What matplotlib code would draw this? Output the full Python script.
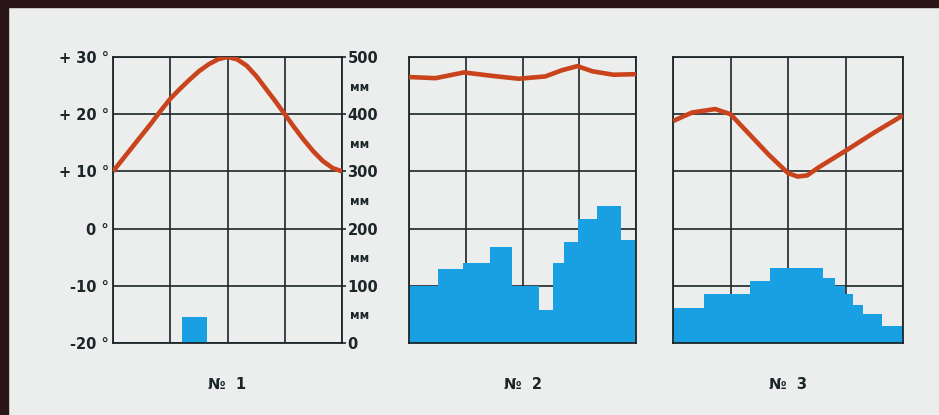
import matplotlib.pyplot as plt
from matplotlib.patches import Rectangle

# mean monthly temperature, deg C (x = month position 0..12)
t1_month = [0, 0.5, 1, 1.5, 2, 2.5, 3, 3.5, 4, 4.5, 5, 5.5, 6,
            6.5, 7, 7.5, 8, 8.5, 9, 9.5, 10, 10.5, 11, 11.5, 12]
t1_temp = [10, 12.1, 14.2, 16.3, 18.4, 20.6, 22.7, 24.4, 26.0, 27.5, 28.7, 29.6, 30,
           29.6, 28.5, 26.7, 24.5, 22.3, 20.0, 17.7, 15.5, 13.5, 11.8, 10.6, 10]

t2_month = [0, 1.4, 2.9, 4.4, 5.8, 7.2, 8.1, 8.9, 9.7, 10.8, 12]
t2_temp = [26.5, 26.3, 27.3, 26.7, 26.2, 26.6, 27.7, 28.4, 27.5, 26.9, 27.0]

t3_month = [0, 1.0, 2.2, 3.0, 3.9, 5.0, 6.0, 6.5, 7.0, 7.6, 9.1, 10.5, 12]
t3_temp = [18.8, 20.3, 20.9, 20.0, 16.8, 12.9, 9.7, 9.1, 9.3, 10.7, 13.8, 16.8, 19.8]

# precipitation, mm (step edges in months)
p1_edges = [0, 3.6, 4.9, 12]
p1_mm = [0, 45, 0]

p2_edges = [0, 1.54, 2.86, 4.26, 5.46, 6.86, 7.59, 8.21, 8.91, 9.96, 11.19, 12]
p2_mm = [100, 130, 139, 167, 100, 58, 139, 177, 216, 240, 180]

p3_edges = [0, 1.6, 4.0, 5.05, 7.83, 8.45, 8.97, 9.39, 9.91, 10.9, 12]
p3_mm = [62, 86, 108, 131, 113, 99, 85, 67, 50, 29]

temp_ticks = [-20, -10, 0, 10, 20, 30]
temp_labels = ['-20 °', '-10 °', '0 °', '+ 10 °', '+ 20 °', '+ 30 °']
mm_ticks = [0, 100, 200, 300, 400, 500]
mm_minor = [50, 150, 250, 350, 450]

panels = [
  ('№  1', t1_month, t1_temp, p1_edges, p1_mm),
  ('№  2', t2_month, t2_temp, p2_edges, p2_mm),
  ('№  3', t3_month, t3_temp, p3_edges, p3_mm),
]
boxes = [(113, 342), (409, 636), (673, 903)]

BG = '#ebeeed'
INK = '#1c2628'
RED = '#c9441c'
BLUE = '#19a0e2'

W, H = 939, 415
fig = plt.figure(figsize=(W / 100, H / 100), dpi=100)
fig.patch.set_facecolor(BG)

# dark frame of the slide (left and top edges)
fig.add_artist(Rectangle((0, 0), 8 / W, 1, transform=fig.transFigure, color='#2a1519', zorder=0))
fig.add_artist(Rectangle((0, 1 - 7 / H), 1, 7 / H, transform=fig.transFigure, color='#2a1519', zorder=0))

top, bottom = 57, 343
for i, (name, months, temps, edges, mm) in enumerate(panels):
  x0, x1 = boxes[i]
  ax = fig.add_axes([x0 / W, 1 - bottom / H, (x1 - x0) / W, (bottom - top) / H])
  ax.set_facecolor('none')
  ax.set_xlim(0, 12)
  ax.set_ylim(0, 500)
  ax.stairs(mm, edges, fill=True, color=BLUE, linewidth=0, zorder=2)
  ax.set_axisbelow(True)
  ax.set_xticks([0, 3, 6, 9, 12])
  ax.set_yticks(mm_ticks)
  ax.grid(True, color=INK, linewidth=1.2)
  ax.tick_params(axis='x', length=0, labelbottom=False)
  for s in ax.spines.values():
    s.set_color(INK)
    s.set_linewidth(1.3)
    s.set_zorder(3)

  tax = ax.twinx()
  tax.set_ylim(-20, 30)
  tax.plot(months, temps, color=RED, linewidth=3.3, solid_capstyle='butt',
           solid_joinstyle='round', zorder=4)
  tax.set_yticks(temp_ticks)
  for s in tax.spines.values():
    s.set_visible(False)

  if i == 0:
    ax.yaxis.tick_right()
    ax.set_yticklabels([str(v) for v in mm_ticks])
    ax.set_yticks(mm_minor, minor=True)
    ax.set_yticklabels(['мм'] * len(mm_minor), minor=True, fontsize=8.5, fontweight='bold', color=INK)
    ax.tick_params(axis='y', which='major', length=3, width=1.2, color=INK, pad=1,
                   labelsize=10.5, labelcolor=INK)
    ax.tick_params(axis='y', which='minor', length=0, pad=6)
    for lab in ax.get_yticklabels():
      lab.set_fontweight('bold')
    tax.yaxis.tick_left()
    tax.set_yticklabels(temp_labels)
    tax.tick_params(axis='y', length=0, pad=3, labelsize=10.5, labelcolor=INK)
    for lab in tax.get_yticklabels():
      lab.set_fontweight('bold')
  else:
    ax.tick_params(axis='y', length=0, labelleft=False, labelright=False)
    tax.tick_params(axis='y', length=0, labelleft=False, labelright=False)

  ax.text(0.5, -0.145, name, transform=ax.transAxes, ha='center', va='center',
          fontsize=10.5, fontweight='bold', color=INK)

fig.savefig('out.png', dpi=100, facecolor=BG)
